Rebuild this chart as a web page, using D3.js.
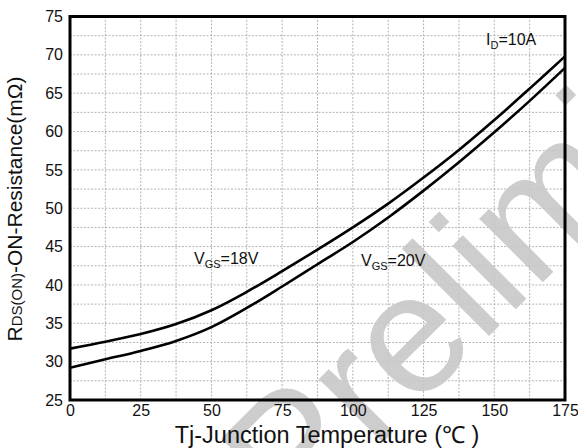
<!DOCTYPE html>
<html>
<head>
<meta charset="utf-8">
<script src="https://cdn.jsdelivr.net/npm/d3@7/dist/d3.min.js"></script>
<style>
  body { margin: 0; background: #fff; }
  text { font-family: "Liberation Sans", Arial, sans-serif; }
</style>
</head>
<body>
<svg id="chart"></svg>
<script>
// junction temperature (°C) and RDS(on) (mOhm)
const temps = [0, 12.5, 25, 37.5, 50, 62.5, 75, 87.5, 100, 112.5, 125, 137.5, 150, 162.5, 175];
const rds18 = [31.7, 32.6, 33.6, 34.9, 36.7, 39.1, 41.8, 44.6, 47.5, 50.6, 54.0, 57.6, 61.5, 65.6, 69.8];
const rds20 = [29.2, 30.3, 31.4, 32.7, 34.5, 37.0, 39.8, 42.7, 45.6, 48.8, 52.3, 56.0, 59.9, 64.0, 68.3];
const xTicks = [0, 25, 50, 75, 100, 125, 150, 175];
const yTicks = [25, 30, 35, 40, 45, 50, 55, 60, 65, 70, 75];
const xGrid = d3.range(0, 175.1, 12.5);
const yGrid = d3.range(25, 75.1, 2.5);

const W = 578, H = 448;
const mLeft = 70, mRight = 565, mTop = 16.5, mBottom = 400;

const svg = d3.select("#chart").attr("width", W).attr("height", H);
svg.append("rect").attr("width", W).attr("height", H).attr("fill", "#fff");

const x = d3.scaleLinear().domain([0, 175]).range([mLeft, mRight]);
const y = d3.scaleLinear().domain([25, 75]).range([mBottom, mTop]);

// dotted grid
const grid = svg.append("g").attr("stroke", "#b4b4b4").attr("stroke-width", 1)
  .attr("stroke-dasharray", "2,1.5");
grid.selectAll(".gx").data(xGrid).enter().append("line")
  .attr("x1", d => x(d)).attr("x2", d => x(d))
  .attr("y1", mTop).attr("y2", mBottom);
grid.selectAll(".gy").data(yGrid).enter().append("line")
  .attr("x1", mLeft).attr("x2", mRight)
  .attr("y1", d => y(d)).attr("y2", d => y(d));

// watermark
svg.append("text")
  .attr("transform", "translate(294,531) rotate(-45)")
  .style("font-size", "170px")
  .style("fill", "#c8c8c8")
  .style("opacity", 0.9)
  .text("Preliminary");

// curves
const line = d3.line()
  .x(d => x(d[0]))
  .y(d => y(d[1]))
  .curve(d3.curveCatmullRom.alpha(0.5));

[rds18, rds20].forEach(vals => {
  svg.append("path")
    .datum(temps.map((t, i) => [t, vals[i]]))
    .attr("fill", "none")
    .attr("stroke", "#000")
    .attr("stroke-width", 2.6)
    .attr("d", line);
});

// frame
svg.append("rect")
  .attr("x", mLeft).attr("y", mTop)
  .attr("width", mRight - mLeft).attr("height", mBottom - mTop)
  .attr("fill", "none").attr("stroke", "#000").attr("stroke-width", 3);

// axes (labels only)
const xAxis = svg.append("g").attr("transform", `translate(0,${mBottom})`)
  .call(d3.axisBottom(x).tickValues(xTicks).tickSize(0).tickPadding(5));
const yAxis = svg.append("g").attr("transform", `translate(${mLeft},0)`)
  .call(d3.axisLeft(y).tickValues(yTicks).tickSize(0).tickPadding(7));
[xAxis, yAxis].forEach(a => {
  a.select(".domain").remove();
  a.selectAll("text").style("font-size", "16px").style("font-family", "Liberation Sans, Arial, sans-serif").attr("fill", "#111");
});

// axis titles
svg.append("text")
  .attr("x", 327).attr("y", 443)
  .attr("text-anchor", "middle")
  .style("font-size", "23.5px").attr("fill", "#111")
  .text("Tj-Junction Temperature (℃ )");

const yt = svg.append("text")
  .attr("transform", "translate(22,209) rotate(-90)")
  .attr("text-anchor", "middle")
  .style("font-size", "21px").attr("fill", "#111");
yt.append("tspan").text("R");
yt.append("tspan").style("font-size", "15px").text("DS(ON)");
yt.append("tspan").text("-ON-Resistance(mΩ)");

// annotations
function label(px, py, main, sub, rest) {
  const t = svg.append("text").attr("x", px).attr("y", py)
    .style("font-size", "16px").attr("fill", "#111");
  t.append("tspan").text(main);
  t.append("tspan").attr("dy", 4).style("font-size", "11px").text(sub);
  t.append("tspan").attr("dy", -4).text(rest);
}
label(194, 264, "V", "GS", "=18V");
label(361, 266, "V", "GS", "=20V");
label(486, 45, "I", "D", "=10A");
</script>
</body>
</html>
